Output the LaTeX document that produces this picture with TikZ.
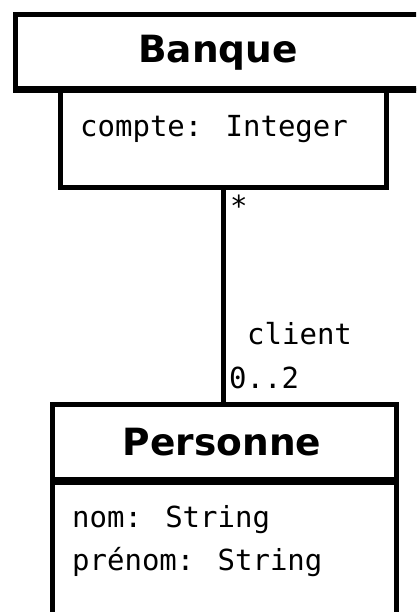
\documentclass[tikz,border=0pt]{standalone}
\usepackage{fontspec}
\newfontfamily\titlefont{DejaVu Sans}
\newfontfamily\monofont{DejaVu Sans Mono}
\begin{document}
\begin{tikzpicture}[x=1pt,y=1pt,
  box/.style={draw=black, line width=5pt, fill=white, anchor=north west, inner sep=0pt},
  title/.style={font=\titlefont\bfseries\fontsize{37.5}{40}\selectfont, inner sep=0pt, anchor=base},
  attr/.style={font=\monofont\fontsize{29}{32}\selectfont, inner sep=0pt, anchor=base west},
  assoc/.style={draw=black, line width=5pt}]
\useasboundingbox (0,0) rectangle (416,-612);
\clip (0,0) rectangle (416,-612);
\fill[white] (0,0) rectangle (416,-612);
% Banque class
\node[box, minimum width=412pt, minimum height=74pt] (bhead) at (13,-12) {};
\node[box, minimum width=326pt, minimum height=99pt] (battr) at (58,-86) {};
\draw[line width=5pt] (bhead.south west) -- (bhead.south east);
\node[title] (btitle) at (218,-63) {Banque};
\node[attr] (bcompte) at (80,-137) {compte: Integer};
% Personne class
\node[box, minimum width=344pt, minimum height=75pt] (phead) at (50,-402) {};
\node[box, minimum width=344pt, minimum height=170pt] (pattr) at (50,-477) {};
\draw[line width=5pt] (phead.south west) -- (phead.south east);
\node[title] (ptitle) at (222,-455) {Personne};
\node[attr] (pnom) at (72,-527) {nom: String};
\node[attr] (pprenom) at (72,-570) {prénom: String};
% association
\draw[assoc] (battr.south) -- (battr.south |- phead.north);
\node[attr] (mstar) at (230,-216) {*};
\node[attr] (mclient) at (247,-344) {client};
\node[attr] (mmult) at (229,-388) {0..2};
\end{tikzpicture}
\end{document}
